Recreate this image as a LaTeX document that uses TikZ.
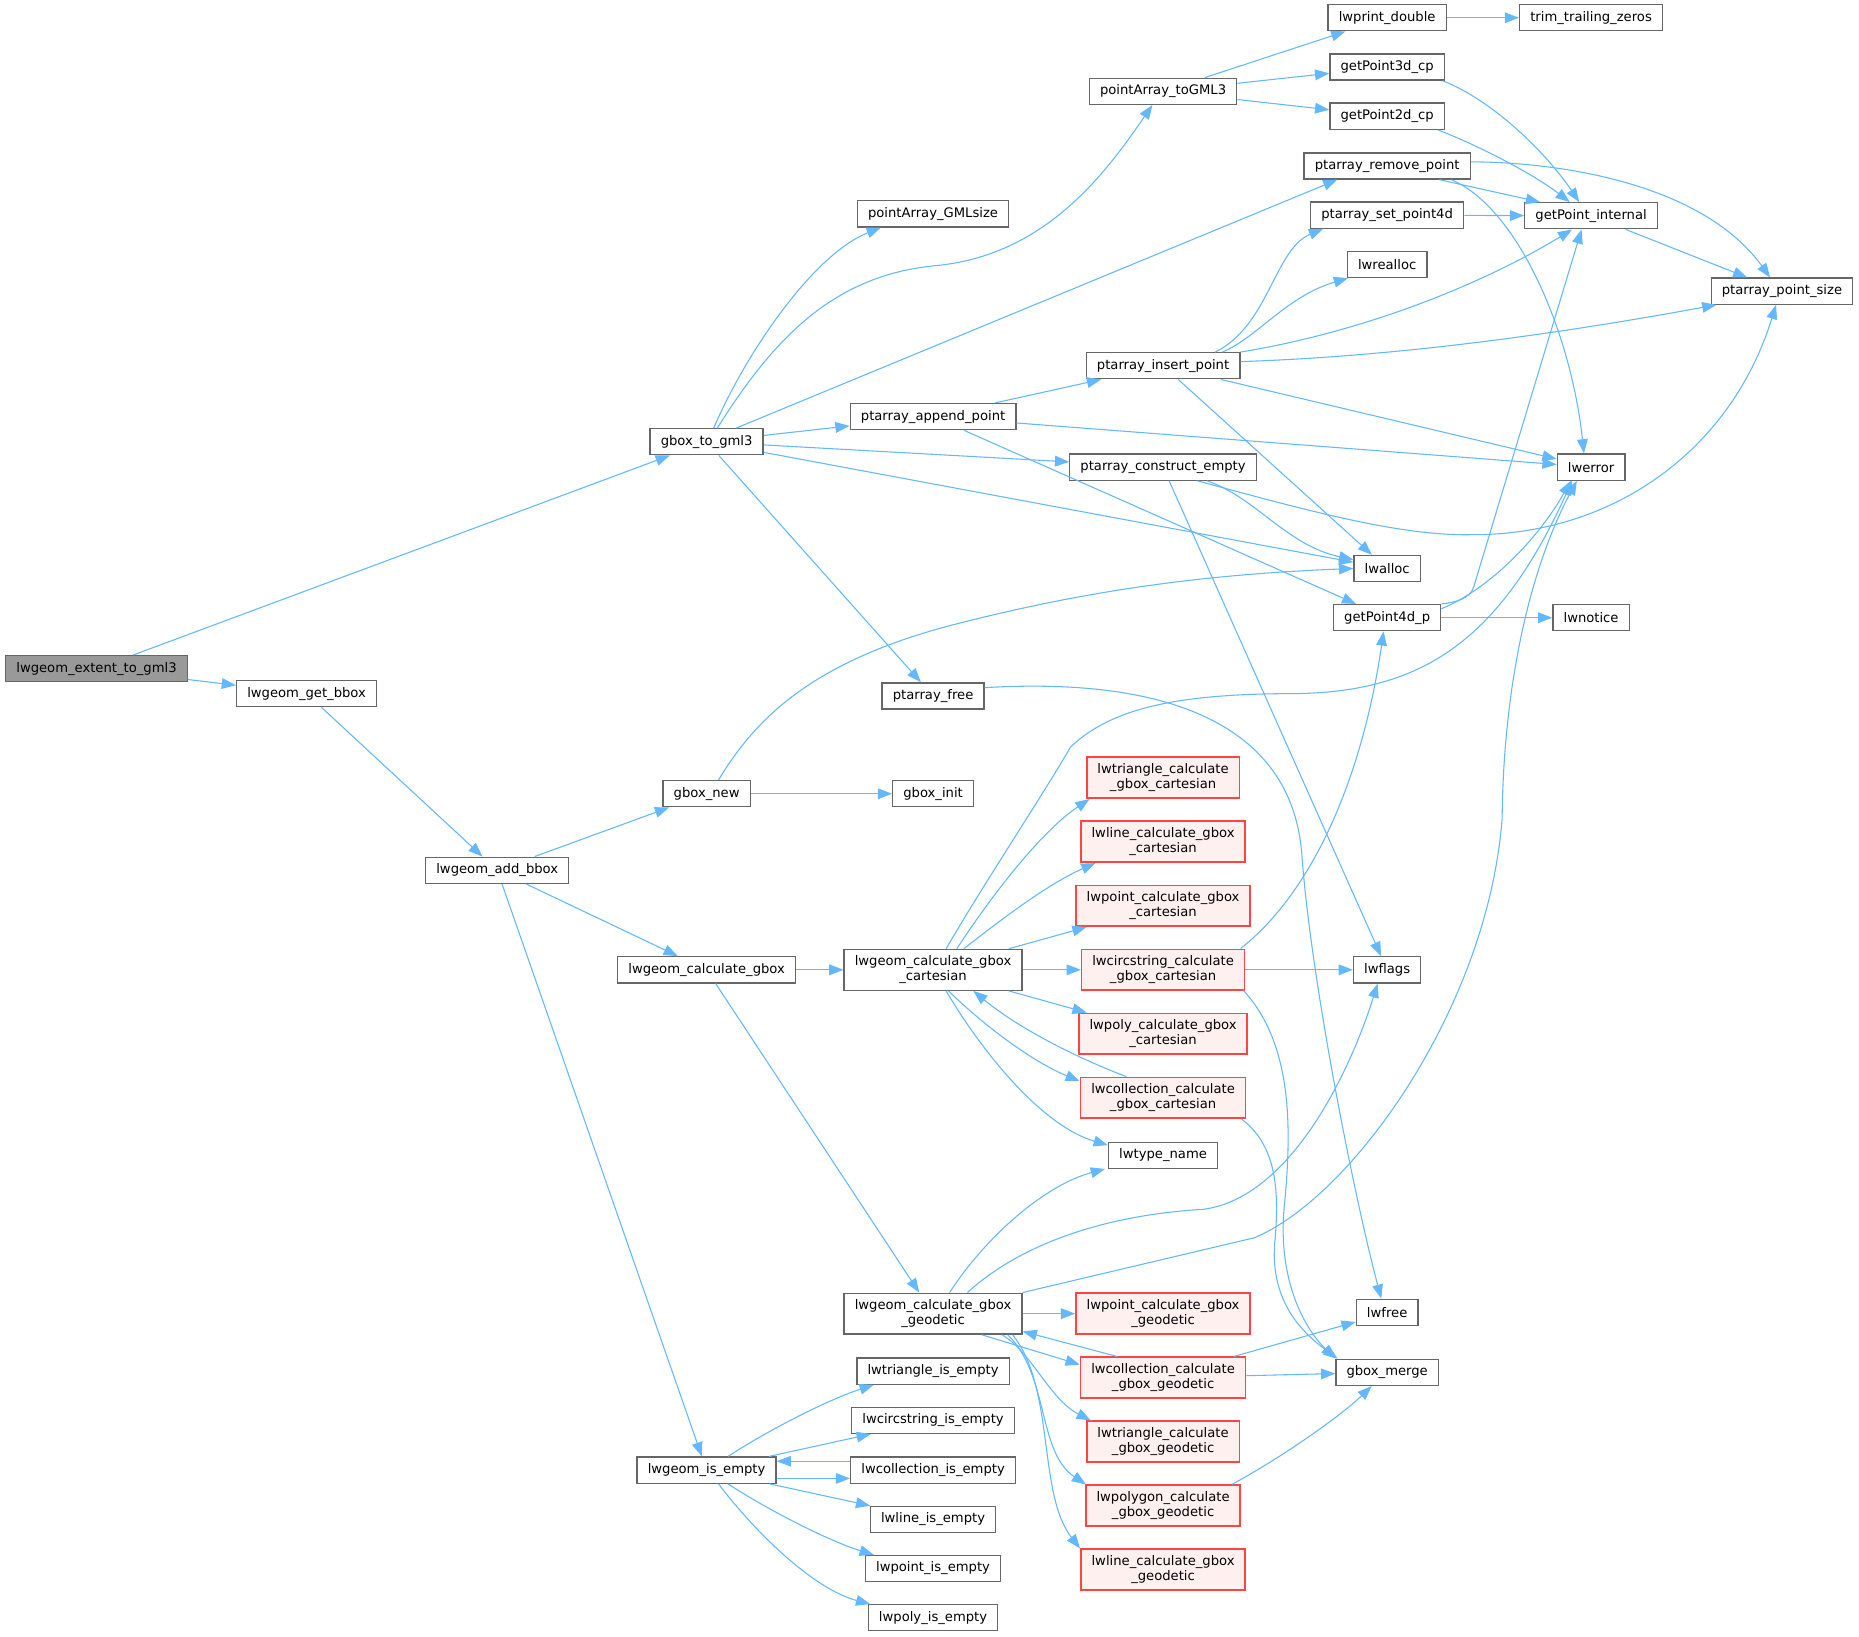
\documentclass[tikz,border=0pt]{standalone}
\usepackage{fontspec}
\setmainfont{DejaVu Sans}
\usetikzlibrary{arrows.meta}
\definecolor{edgecol}{HTML}{63B8FF}
\definecolor{nodeborder}{HTML}{666666}
\definecolor{rootfill}{HTML}{999999}
\definecolor{redborder}{HTML}{FF4444}
\definecolor{redfill}{HTML}{FFF0F0}
\newcommand{\fnfont}{\fontsize{11.1}{12.6}\selectfont}
\tikzset{
  fn/.style={draw=nodeborder, fill=white, line width=1.1pt, inner xsep=9pt, inner ysep=0pt, minimum height=22pt, font=\fnfont, text=black},
  fn2/.style={fn, minimum height=34.5pt, align=center},
  red2/.style={fn2, draw=redborder, fill=redfill, line width=1.4pt},
  root/.style={fn, fill=rootfill},
  edge/.style={draw=edgecol, line width=0.9pt, -{Triangle[length=12pt,width=9pt]}},
}
\begin{document}
\begin{tikzpicture}[x=1pt,y=-1pt]
\fill[white] (0,0) rectangle (1568,1380);
\useasboundingbox (0,0) rectangle (1568,1380);
% column 1-4
\node[root] (extent) at (81.4,564) {lwgeom\_extent\_to\_gml3};
\node[fn] (getbbox) at (258.6,585) {lwgeom\_get\_bbox};
\node[fn] (addbbox) at (419.4,734) {lwgeom\_add\_bbox};
\node[fn] (gbox) at (596,372.6) {gbox\_to\_gml3};
\node[fn] (gboxnew) at (596,669.5) {gbox\_new};
\node[fn] (calcgbox) at (596,818) {lwgeom\_calculate\_gbox};
\node[fn] (isempty) at (596,1240) {lwgeom\_is\_empty};
% column 5
\node[fn] (gmlsize) at (787,180.4) {pointArray\_GMLsize};
\node[fn] (append) at (787,351.4) {ptarray\_append\_point};
\node[fn] (ptfree) at (787,587) {ptarray\_free};
\node[fn] (gboxinit) at (787,669.5) {gbox\_init};
\node[fn2] (cart) at (787,818) {lwgeom\_calculate\_gbox\\\_cartesian};
\node[fn2] (geod) at (787,1108) {lwgeom\_calculate\_gbox\\\_geodetic};
\node[fn] (triempty) at (787,1156.5) {lwtriangle\_is\_empty};
\node[fn] (circempty) at (787,1198) {lwcircstring\_is\_empty};
\node[fn] (collempty) at (787,1240) {lwcollection\_is\_empty};
\node[fn] (lineempty) at (787,1281.6) {lwline\_is\_empty};
\node[fn] (pointempty) at (787,1323) {lwpoint\_is\_empty};
\node[fn] (polyempty) at (787,1364.5) {lwpoly\_is\_empty};
% column 6
\node[fn] (togml) at (981,77) {pointArray\_toGML3};
\node[fn] (insert) at (981,308.5) {ptarray\_insert\_point};
\node[fn] (construct) at (981,394) {ptarray\_construct\_empty};
\node[red2] (tricart) at (981,656) {lwtriangle\_calculate\\\_gbox\_cartesian};
\node[red2] (linecart) at (981,710) {lwline\_calculate\_gbox\\\_cartesian};
\node[red2] (pointcart) at (981,764) {lwpoint\_calculate\_gbox\\\_cartesian};
\node[red2] (circcart) at (981,818) {lwcircstring\_calculate\\\_gbox\_cartesian};
\node[red2] (polycart) at (981,872) {lwpoly\_calculate\_gbox\\\_cartesian};
\node[red2] (collcart) at (981,926) {lwcollection\_calculate\\\_gbox\_cartesian};
\node[fn] (typename) at (981,974.4) {lwtype\_name};
\node[red2] (pointgeod) at (981,1108) {lwpoint\_calculate\_gbox\\\_geodetic};
\node[red2] (collgeod) at (981,1162) {lwcollection\_calculate\\\_gbox\_geodetic};
\node[red2] (trigeod) at (981,1216) {lwtriangle\_calculate\\\_gbox\_geodetic};
\node[red2] (polygeod) at (981,1270) {lwpolygon\_calculate\\\_gbox\_geodetic};
\node[red2] (linegeod) at (981,1324) {lwline\_calculate\_gbox\\\_geodetic};
% column 7
\node[fn] (lwprint) at (1170,15) {lwprint\_double};
\node[fn] (gpthree) at (1170,56.6) {getPoint3d\_cp};
\node[fn] (gptwo) at (1170,98) {getPoint2d\_cp};
\node[fn] (remove) at (1170,140) {ptarray\_remove\_point};
\node[fn] (setpfour) at (1170,181.5) {ptarray\_set\_point4d};
\node[fn] (realloc) at (1170,223) {lwrealloc};
\node[fn] (lwalloc) at (1170,479.5) {lwalloc};
\node[fn] (gpfour) at (1170,521) {getPoint4d\_p};
\node[fn] (lwflags) at (1170,818) {lwflags};
\node[fn] (lwfree) at (1170,1107) {lwfree};
\node[fn] (gboxmerge) at (1170,1157.5) {gbox\_merge};
% column 8-9
\node[fn] (trim) at (1342,15) {trim\_trailing\_zeros};
\node[fn] (gpint) at (1342,182) {getPoint\_internal};
\node[fn] (lwerror) at (1342,394) {lwerror};
\node[fn] (lwnotice) at (1342,521) {lwnotice};
\node[fn] (ptsize) at (1503,245.6) {ptarray\_point\_size};

% edges from the left part
\draw[edge] (extent) -- (gbox);
\draw[edge] (extent) -- (getbbox);
\draw[edge] (getbbox) -- (addbbox);
\draw[edge] (addbbox) -- (gboxnew);
\draw[edge] (addbbox) -- (calcgbox);
\draw[edge] (addbbox) -- (isempty);

% gbox_to_gml3
\draw[edge] ([xshift=6pt]gbox.north) .. controls (628,300) and (685,215) .. ([xshift=-44pt]gmlsize.south);
\draw[edge] ([xshift=9pt]gbox.north) .. controls (650,290) and (700,232) .. (790,224) .. controls (880,215) and (930,150) .. ([xshift=-9pt]togml.south);
\draw[edge] ([xshift=25pt]gbox.north) -- ([xshift=-42pt]remove.south);
\draw[edge] (gbox) -- (append);
\draw[edge] (gbox) -- (construct);
\draw[edge] (gbox) -- (lwalloc);
\draw[edge] (gbox) -- (ptfree);

% pointArray_toGML3
\draw[edge] (togml) -- (lwprint);
\draw[edge] (togml) -- (gpthree);
\draw[edge] (togml) -- (gptwo);
\draw[edge] (lwprint) -- (trim);
\draw[edge] ([xshift=-2pt]gpthree.south east) .. controls (1260,85) and (1305,130) .. ([xshift=-10pt]gpint.north);
\draw[edge] ([xshift=-6pt]gptwo.south east) .. controls (1250,124) and (1295,148) .. ([xshift=-18pt]gpint.north);

% ptarray_remove_point
\draw[edge] ([xshift=44pt]remove.south) -- ([xshift=-43pt]gpint.north);
\draw[edge] ([yshift=3.5pt]remove.east) .. controls (1330,137) and (1440,160) .. ([xshift=-10pt]ptsize.north);
\draw[edge] ([xshift=54pt]remove.south) .. controls (1280,175) and (1325,280) .. ([xshift=-6pt]lwerror.north);
\draw[edge] (setpfour) -- (gpint);
\draw[edge] (gpint) -- (ptsize);

% ptarray_insert_point
\draw[edge] ([xshift=44pt]insert.north) .. controls (1070,275) and (1075,210) .. ([xshift=-54pt]setpfour.south);
\draw[edge] ([xshift=50pt]insert.north) .. controls (1060,285) and (1085,250) .. ([xshift=-33pt]realloc.south);
\draw[edge] (insert.north east) .. controls (1150,280) and (1250,240) .. ([xshift=-16pt]gpint.south);
\draw[edge] ([yshift=3.5pt]insert.east) .. controls (1200,300) and (1350,275) .. ([xshift=5pt]ptsize.south west);
\draw[edge] (insert) -- (lwerror);
\draw[edge] (insert) -- (lwalloc);

% ptarray_append_point
\draw[edge] (append) -- (insert);
\draw[edge] (append) -- (lwerror);
\draw[edge] (append) -- (gpfour);

% ptarray_construct_empty
\draw[edge] ([xshift=37pt]construct.south) .. controls (1060,420) and (1085,460) .. ([yshift=7.5pt]lwalloc.west);
\draw[edge] ([xshift=29pt]construct.south) .. controls (1100,430) and (1180,452) .. (1240,451) .. controls (1360,452) and (1460,380) .. ([xshift=-5pt]ptsize.south);
\draw[edge] (construct) -- (lwflags);

% getPoint4d_p
\draw[edge] (gpfour.north east) .. controls (1228,508) and (1240,505) .. (1243,495) -- ([xshift=-8pt]gpint.south);
\draw[edge] ([yshift=-4pt]gpfour.north east) .. controls (1260,495) and (1300,450) .. ([xshift=-17pt]lwerror.south);
\draw[edge] (gpfour) -- (lwnotice);

% gbox_new, ptarray_free
\draw[edge] ([xshift=10pt]gboxnew.north) .. controls (635,610) and (680,560) .. (800,528) .. controls (900,502) and (1000,485) .. (lwalloc.west);
\draw[edge] (gboxnew) -- (gboxinit);
\draw[edge] ([yshift=7pt]ptfree.east) .. controls (1000,570) and (1090,620) .. (1098,720) .. controls (1105,820) and (1140,1000) .. ([xshift=-5pt]lwfree.north);

% lwgeom_calculate_gbox
\draw[edge] (calcgbox) -- (cart);
\draw[edge] (calcgbox) -- (geod);

% cartesian
\draw[edge] ([xshift=11pt]cart.north) .. controls (830,745) and (880,670) .. (903,630) .. controls (940,595) and (1000,585) .. (1095,585) .. controls (1200,583) and (1265,540) .. ([xshift=-16pt]lwerror.south);
\draw[edge] ([xshift=20pt]cart.north) .. controls (840,750) and (880,700) .. ([xshift=-62pt]tricart.south);
\draw[edge] ([xshift=26pt]cart.north) .. controls (845,775) and (885,745) .. ([xshift=-57pt]linecart.south);
\draw[edge] (cart) -- (pointcart);
\draw[edge] (cart) -- (circcart);
\draw[edge] (cart) -- (polycart);
\draw[edge] ([xshift=13pt]cart.south) .. controls (830,865) and (870,895) .. ([yshift=14pt]collcart.west);
\draw[edge] ([xshift=-31pt]collcart.north) .. controls (910,893) and (860,868) .. ([xshift=34pt]cart.south);
\draw[edge] ([xshift=11pt]cart.south) .. controls (830,890) and (880,950) .. ([yshift=-3pt]typename.north west);

% circstring / collection cartesian
\draw[edge] ([xshift=-4pt]circcart.north east) .. controls (1110,750) and (1150,650) .. ([xshift=-3pt]gpfour.south);
\draw[edge] (circcart) -- (lwflags);
\draw[edge] ([xshift=-2pt,yshift=1pt]circcart.south east) .. controls (1090,880) and (1090,950) .. (1083,1020) .. controls (1078,1080) and (1100,1120) .. (gboxmerge.north west);
\draw[edge] ([xshift=-4pt]collcart.south east) .. controls (1075,965) and (1080,1000) .. (1075,1050) .. controls (1072,1100) and (1100,1125) .. ([xshift=2pt]gboxmerge.north west);

% geodetic
\draw[edge] ([xshift=14pt]geod.north) .. controls (830,1045) and (880,1000) .. ([xshift=-49pt]typename.south);
\draw[edge] ([xshift=29pt]geod.north) .. controls (860,1050) and (930,1025) .. (1015,1020) .. controls (1090,1010) and (1140,900) .. ([xshift=-8pt]lwflags.south);
\draw[edge] (geod.north east) -- (1058,1044) .. controls (1140,1010) and (1255,850) .. (1267,690) .. controls (1268,580) and (1290,480) .. ([xshift=-12pt]lwerror.south);
\draw[edge] (geod) -- (pointgeod);
\draw[edge] ([xshift=41pt]geod.south) -- ([yshift=11pt]collgeod.west);
\draw[edge] ([xshift=-39pt]collgeod.north) -- ([yshift=-15pt]geod.east);
\draw[edge] ([xshift=58pt]geod.south) .. controls (870,1140) and (885,1180) .. ([xshift=-61pt]trigeod.north);
\draw[edge] ([xshift=63pt]geod.south) .. controls (885,1160) and (875,1225) .. ([xshift=-65pt]polygeod.north);
\draw[edge] ([xshift=67pt]geod.south) .. controls (890,1170) and (875,1260) .. ([xshift=-70pt]linegeod.north);
\draw[edge] ([xshift=60pt]collgeod.north) -- ([yshift=-8pt]lwfree.west);
\draw[edge] (collgeod) -- (gboxmerge);
\draw[edge] ([xshift=58pt]polygeod.north) .. controls (1080,1230) and (1130,1195) .. ([xshift=-13pt]gboxmerge.south);

% lwgeom_is_empty
\draw[edge] ([xshift=18pt]isempty.north) .. controls (650,1205) and (700,1180) .. ([xshift=-50pt]triempty.south);
\draw[edge] (isempty) -- (circempty);
\draw[edge] ([yshift=7.5pt]collempty.west) -- ([yshift=7.5pt]isempty.east);
\draw[edge] ([yshift=-7pt]isempty.east) -- ([yshift=-7pt]collempty.west);
\draw[edge] (isempty) -- (lineempty);
\draw[edge] ([xshift=18pt]isempty.south) .. controls (650,1275) and (700,1300) .. ([xshift=-50pt]pointempty.north);
\draw[edge] ([xshift=10pt]isempty.south) .. controls (635,1290) and (685,1340) .. ([xshift=-53pt]polyempty.north);
\end{tikzpicture}
\end{document}
